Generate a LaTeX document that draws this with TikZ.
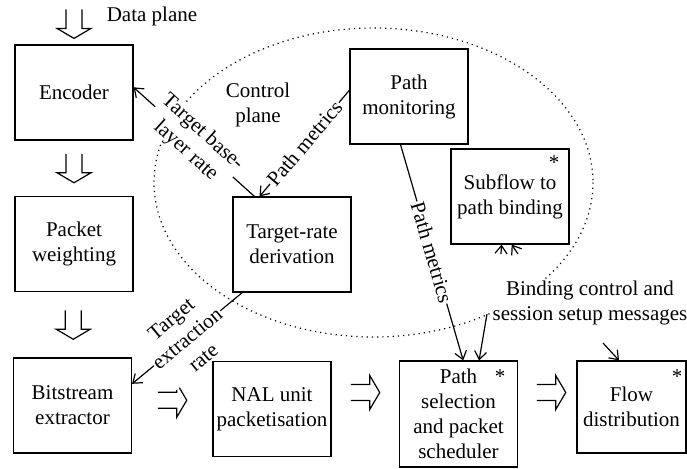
\documentclass[tikz,border=0pt]{standalone}
\usepackage{fontspec}
\setmainfont{Liberation Serif}
\usetikzlibrary{arrows.meta,
                calc
                }

\begin{document}
\begin{tikzpicture}[x=0.5pt, y=-0.5pt, line width=0.6pt,
          font=\fontsize{10.5}{12.5}\selectfont,
          >={Straight Barb[length=4pt,width=6pt]},
      box/.style = {draw, fill=white, align=center, inner sep=1pt,
                    minimum width=59pt, minimum height=47.5pt},
      lbl/.style = {fill=white, align=center, inner sep=0.5pt, sloped},
     astx/.style = {inner sep=0pt},
   hollow/.pic = {\draw (-14.5,-8) -- (4.5,-8) -- (4.5,-17) -- (14.5,0)
                        -- (4.5,17) -- (4.5,8) -- (-14.5,8);}
      ]
    \useasboundingbox (0,0) rectangle (687,468);
    \draw[dotted] (373.5,182.5) ellipse [x radius=219.5, y radius=154.5];

    \node (enc)  [box] at (74,92.5)    {Encoder};
    \node (pkt)  [box] at (74,244)     {Packet\\weighting};
    \node (bit)  [box] at (72.5,405.5) {Bitstream\\extractor};
    \node (nal)  [box] at (272,409)    {NAL unit\\packetisation};
    \node (psel) [box, minimum height=53pt] at (458.5,414)
                 {Path\\selection\\and packet\\scheduler};
    \node (flow) [box, minimum width=54.5pt, minimum height=46pt] at (631.5,407)
                 {Flow\\distribution};
    \node (pmon) [box] at (409,96.5)   {Path\\monitoring};
    \node (sub)  [box] at (510,196.5)  {Subflow to\\path binding};
    \node (tgt)  [box] at (292,244.5)  {Target-rate\\derivation};

    \node (sub-ast)  [astx] at (554,163) {*};
    \node (psel-ast) [astx] at (500,377) {*};
    \node (flow-ast) [astx] at (677,377) {*};

    \node (data) at (152,16) {Data plane};
    \node (ctrl) [align=center] at (258,105) {Control\\plane};
    \node (bind) [fill=white, align=center, inner sep=1pt] at (590,303)
                 {Binding control and\\session setup messages};

    \pic[rotate=-90] at ($(enc.north)+(0,-20.5)$) {hollow};
    \pic[rotate=-90] at ($(enc.south)!.5!(pkt.north)$) {hollow};
    \pic[rotate=-90] at ($(pkt.south)!.5!(bit.north)$) {hollow};
    \pic at ($(bit.east)!.5!(nal.west)+(0,-7)$) {hollow};
    \pic at ($(nal.east)!.5!(psel.west)+(0,-19)$) {hollow};
    \pic at ($(psel.east)!.5!(flow.west)+(4,-18)$) {hollow};

    \draw[->] (tgt.128) -- node[lbl] {Target base-\\layer rate} (enc.5);
    \draw[->] (pmon.174) -- node[lbl] {Path metrics} (tgt.124);
    \draw[->] (tgt.224) -- node[lbl] {Target\\extraction\\rate} (bit.20);
    \draw[->] (pmon.260) -- node[lbl] {Path metrics} (psel.85);

    \coordinate (bind-ps)  at (487,314);
    \coordinate (bind-fd)  at (603,343);
    \coordinate (bind-sb1) at (501,254);
    \coordinate (bind-sb2) at (518,254);
    \draw[->] (bind-ps)  -- (psel.69);
    \draw[->] (bind-fd)  -- (flow.105);
    \draw[->] (bind-sb1) -- (sub.260);
    \draw[->] (bind-sb2) -- (sub.272);
\end{tikzpicture}
\end{document}
